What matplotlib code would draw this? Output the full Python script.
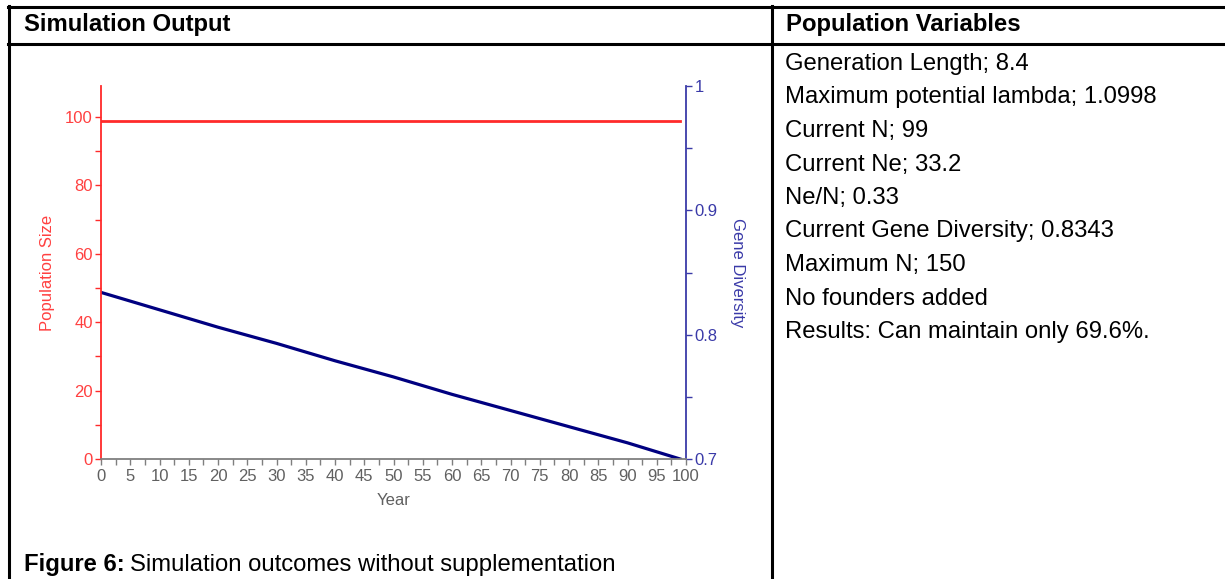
import matplotlib
matplotlib.use("Agg")
import matplotlib.pyplot as plt
from matplotlib.lines import Line2D
from matplotlib.ticker import MultipleLocator

# ---- data ----
years_pop = [0, 99]
pop_size = [99, 99]
years_gd = [0, 10, 20, 30, 40, 50, 60, 70, 80, 90, 99]
gene_div = [0.834, 0.820, 0.806, 0.793, 0.779, 0.766, 0.752, 0.739, 0.726, 0.713, 0.700]
x_ticks = list(range(0, 101, 5))
left_ticks = [0, 20, 40, 60, 80, 100]
right_ticks = [0.7, 0.8, 0.9, 1.0]
right_labels = ["0.7", "0.8", "0.9", "1"]
pop_vars = [
    "Generation Length; 8.4",
    "Maximum potential lambda; 1.0998",
    "Current N; 99",
    "Current Ne; 33.2",
    "Ne/N; 0.33",
    "Current Gene Diversity; 0.8343",
    "Maximum N; 150",
    "No founders added",
    "Results: Can maintain only 69.6%.",
]

plt.rcParams['font.family'] = ['Liberation Sans', 'DejaVu Sans']

W, H = 1225, 579
fig = plt.figure(figsize=(W / 100, H / 100), dpi=100)

def fx(px):
    return px / W

def fy(py):
    return 1 - py / H

FS = 17.2

# ---- table lines ----
lw = 2.2
fig.add_artist(Line2D([fx(8), fx(1225)], [fy(7), fy(7)], color='black', lw=lw))
fig.add_artist(Line2D([fx(8), fx(1225)], [fy(43.5), fy(43.5)], color='black', lw=lw))
fig.add_artist(Line2D([fx(9), fx(9)], [fy(6), fy(579)], color='black', lw=lw))
fig.add_artist(Line2D([fx(772), fx(772)], [fy(6), fy(579)], color='black', lw=lw))

# ---- headers ----
fig.text(fx(24), fy(25), "Simulation Output", fontsize=FS, fontweight='bold',
         va='center', ha='left')
fig.text(fx(786), fy(25), "Population Variables", fontsize=FS, fontweight='bold',
         va='center', ha='left')

for i, s in enumerate(pop_vars):
    fig.text(fx(785), fy(64 + i * 33.5), s, fontsize=FS, va='center', ha='left')

t1 = fig.text(fx(24), fy(565), "Figure 6:", fontsize=FS, fontweight='bold',
              va='center', ha='left')
fig.canvas.draw()
bb = t1.get_window_extent()
fig.text(bb.x1 / W + fx(5), fy(565), "Simulation outcomes without supplementation",
         fontsize=FS, va='center', ha='left')

# ---- chart ----
red = '#ff2a2a'
navy = '#000080'
blue_ax = '#3a3aa8'
gray = '#7f7f7f'

ax = fig.add_axes([fx(101), fy(459), fx(686) - fx(101), fy(86) - fy(459)])
ax.set_xlim(0, 100)
ax.set_ylim(0, 109.1)
ax.plot(years_pop, pop_size, color=red, lw=2)
ax.set_xticks(x_ticks)
ax.xaxis.set_minor_locator(MultipleLocator(2.5))
ax.set_yticks(left_ticks)
ax.yaxis.set_minor_locator(MultipleLocator(10))
ax.spines['top'].set_visible(False)
ax.spines['right'].set_visible(False)
ax.spines['left'].set_color(red)
ax.spines['left'].set_linewidth(1.3)
ax.spines['bottom'].set_color(gray)
ax.spines['bottom'].set_linewidth(1.3)
ax.tick_params(axis='x', which='both', direction='out', colors=gray, length=4,
               width=1, labelsize=12, labelcolor='#606060', pad=3)
ax.tick_params(axis='y', which='both', direction='out', colors=red, length=4,
               width=1, labelsize=12, labelcolor='#ff4040', pad=2)
ax.set_xlabel("Year", fontsize=12, color='#606060', labelpad=7)
ax.set_ylabel("Population Size", fontsize=12, color='#ff4040', labelpad=7)

ax2 = ax.twinx()
ax2.set_ylim(0.7, 1.0)
ax2.plot(years_gd, gene_div, color=navy, lw=2.3)
ax2.set_yticks(right_ticks)
ax2.set_yticklabels(right_labels)
ax2.yaxis.set_minor_locator(MultipleLocator(0.05))
for s in ['top', 'left', 'bottom']:
    ax2.spines[s].set_visible(False)
ax2.spines['right'].set_color(blue_ax)
ax2.spines['right'].set_linewidth(1.3)
ax2.tick_params(axis='y', which='both', direction='out', colors=blue_ax, length=4,
                width=1, labelsize=12, labelcolor=blue_ax, pad=2)
ax2.set_ylabel("Gene Diversity", fontsize=12, color=blue_ax, rotation=-90, labelpad=20)
ax.set_zorder(ax2.get_zorder() + 1)
ax.patch.set_visible(False)

fig.savefig("out.png", dpi=100)
